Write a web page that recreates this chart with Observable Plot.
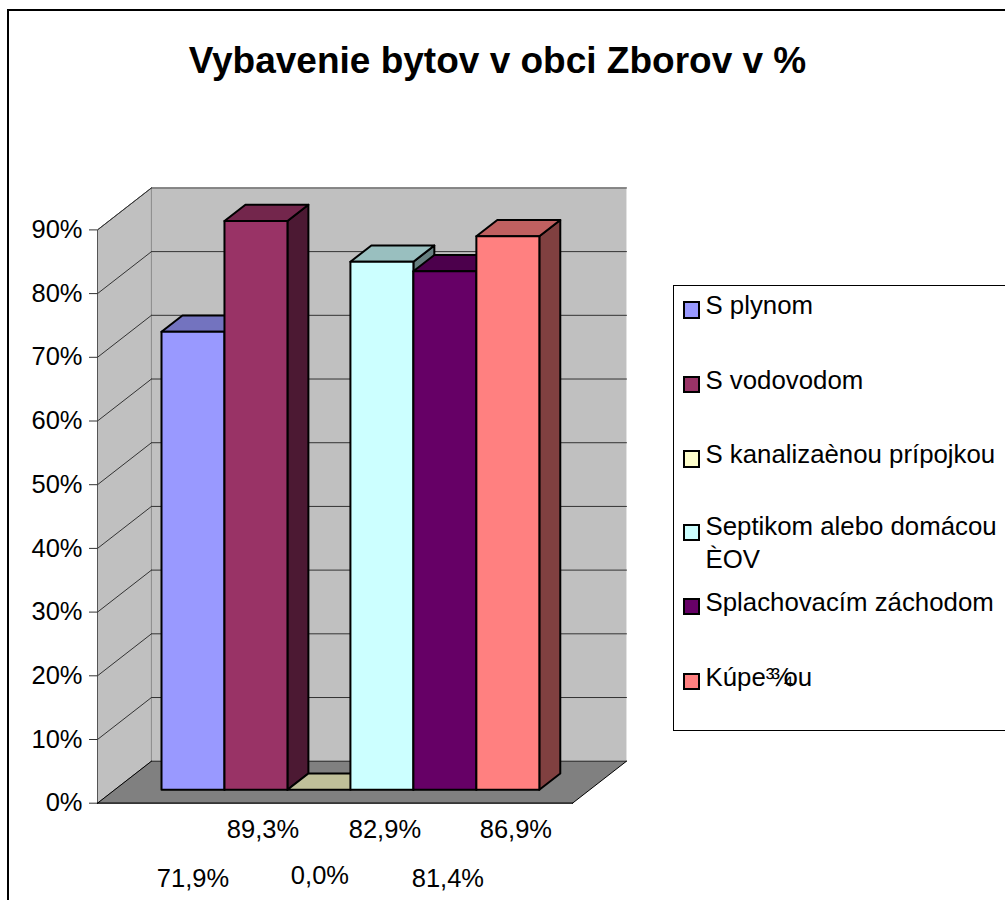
<!DOCTYPE html>
<html lang="sk">
<head>
<meta charset="utf-8">
<title>Vybavenie bytov v obci Zborov v %</title>
<script src="https://cdn.jsdelivr.net/npm/d3@7"></script>
<script src="https://cdn.jsdelivr.net/npm/@observablehq/plot@0.6"></script>
<style>
  html, body { margin: 0; padding: 0; background: #fff; }
  body { width: 1005px; height: 900px; overflow: hidden; position: relative; font-family: "Liberation Sans", Arial, sans-serif; color: #000; }
  #chart { position: absolute; left: 0; top: 0; }
  #chart svg { display: block; }
  .frame { position: absolute; left: 6.5px; top: 8.5px; width: 1100px; height: 1000px; border: 2px solid #000; box-sizing: border-box; }
  h1 { position: absolute; left: 0; top: 38px; width: 995px; margin: 0; text-align: center; font-size: 37px; line-height: 46px; font-weight: bold; }
  .legend { position: absolute; left: 673px; top: 284.5px; width: 400px; height: 446.5px; border: 1.5px solid #000; box-sizing: border-box; background: #fff; }
  .item { position: absolute; left: 31.5px; font-size: 25.8px; line-height: 33px; white-space: nowrap; }
  .swatch { position: absolute; left: 8.5px; width: 17.5px; height: 17.5px; border: 2px solid #000; box-sizing: border-box; }
  .squeezed { margin-left: -0.14em; letter-spacing: -0.34em; }
</style>
</head>
<body>
<div class="frame"></div>
<div id="chart"></div>
<h1 id="title"></h1>
<div class="legend" id="legend"></div>
<script>
const titleText = "Vybavenie bytov v obci Zborov v %";
const categories = ["S plynom", "S vodovodom", "S kanalizaènou prípojkou", "Septikom alebo domácou\nÈOV", "Splachovacím záchodom", "Kúpe³¾ou"];
const values = [71.9, 89.3, 0.0, 82.9, 81.4, 86.9];
const valueLabels = ["71,9%", "89,3%", "0,0%", "82,9%", "81,4%", "86,9%"];
const frontColors = ["#9999FF", "#993366", "#FFFFCC", "#CCFFFF", "#660066", "#FF8080"];
const topColors = ["#7373BF", "#73264C", "#BFBF99", "#99BFBF", "#4C004C", "#BF6060"];
const sideColors = ["#4C4C80", "#4C1933", "#808066", "#668080", "#330033", "#804040"];
const yTicks = [0, 10, 20, 30, 40, 50, 60, 70, 80, 90];

// Oblique projection: depth 0 is the plane of the axis, depth 1 the back wall.
const DEPTH_X = 0.857, DEPTH_Y = 6.59;
const BAR_FRONT = 0.319, BAR_BACK = 0.707;
const XMIN = -0.743, XMAX = 6.8;
const p = (slot, value, depth) => ({ x: slot + depth * DEPTH_X, y: value + depth * DEPTH_Y });
const poly = (points, fill, stroke, strokeWidth) =>
  Plot.line([...points, points[0]], { x: "x", y: "y", fill, stroke, strokeWidth, curve: "linear", strokeLinejoin: "round" });
const seg = (a, b, stroke = "#333", strokeWidth = 1) =>
  Plot.line([a, b], { x: "x", y: "y", stroke, strokeWidth });

const wall = [
  poly([p(XMIN, 0, 0), p(XMIN, 0, 1), p(XMIN, 90, 1), p(XMIN, 90, 0)], "#C0C0C0", "#555", 1),
  poly([p(XMIN, 0, 1), p(XMAX, 0, 1), p(XMAX, 90, 1), p(XMIN, 90, 1)], "#C0C0C0", "none", 0),
  poly([p(XMIN, 0, 0), p(XMIN, 0, 1), p(XMAX, 0, 1), p(XMAX, 0, 0)], "#808080", "none", 0),
  seg(p(XMIN, 0, 0), p(XMAX, 0, 0), "#000", 1.2),
  seg(p(XMIN, 0, 1), p(XMAX, 0, 1), "#222", 1),
  seg(p(XMIN, 0, 0), p(XMIN, 0, 1), "#000", 1),
  seg(p(XMAX, 0, 0), p(XMAX, 0, 1), "#000", 1)
];
const grid = yTicks.filter(t => t > 0).flatMap(t => [
  seg(p(XMIN, t, 0), p(XMIN, t, 1)),
  seg(p(XMIN, t, 1), p(XMAX, t, 1))
]);
const bars = values.flatMap((v, i) => {
  const l = i, r = i + 1;
  const marks = [];
  if (v > 0) marks.push(poly([p(r, 0, BAR_FRONT), p(r, 0, BAR_BACK), p(r, v, BAR_BACK), p(r, v, BAR_FRONT)], sideColors[i], "#000", 2));
  marks.push(poly([p(l, v, BAR_FRONT), p(l, v, BAR_BACK), p(r, v, BAR_BACK), p(r, v, BAR_FRONT)], topColors[i], "#000", 2));
  if (v > 0) marks.push(poly([p(l, 0, BAR_FRONT), p(r, 0, BAR_FRONT), p(r, v, BAR_FRONT), p(l, v, BAR_FRONT)], frontColors[i], "#000", 2));
  return marks;
});

const labelNudge = [0, 7, 1, 3, 3, 8];
const labelDrop = [76, 27, 73, 27, 76, 27];
const labelRows = values.map((v, i) => ({ slot: i + 0.5, label: valueLabels[i], nudge: labelNudge[i], drop: labelDrop[i] }));
const labels = labelRows.map(d =>
  Plot.text([d], { x: r => p(r.slot, 0, BAR_FRONT).x, y: 0, text: "label", dx: d.nudge, dy: d.drop, fontSize: 25.5, fill: "#000", lineAnchor: "middle" })
);

const plot = Plot.plot({
  width: 1005,
  height: 900,
  marginLeft: 97,
  marginRight: 431,
  marginTop: 0,
  marginBottom: 0,
  style: { background: "transparent", fontFamily: '"Liberation Sans", Arial, sans-serif', overflow: "visible" },
  x: { domain: [XMIN, XMAX], range: [97, 572], axis: null },
  y: { domain: [0, 90], range: [802.7, 229.4], axis: null },
  marks: [
    ...wall,
    ...grid,
    Plot.axisY({ ticks: yTicks, tickSize: 8, tickPadding: 7, tickFormat: d => d + "%", fontSize: 25.5, label: null, stroke: "#333", color: "#000" }),
    ...bars,
    ...labels
  ]
});
document.getElementById("chart").append(plot);
document.getElementById("title").textContent = titleText;

const legendRows = [15.5, 90, 164.5, 238, 312, 387];
const legendText = [0, 0, 0, -2, 0, 0];
const legend = document.getElementById("legend");
categories.forEach((c, i) => {
  const s = document.createElement("div");
  s.className = "swatch";
  s.style.top = legendRows[i] + "px";
  s.style.background = frontColors[i];
  legend.append(s);
  c.split("\n").forEach((line, k) => {
    const t = document.createElement("div");
    t.className = "item";
    t.style.top = legendRows[i] - 12 + legendText[i] + k * 33 + "px";
    const cut = line.indexOf("¾");
    if (cut < 0) t.textContent = line;
    else {
      const sq = document.createElement("span");
      sq.className = "squeezed";
      sq.textContent = "¾";
      t.append(line.slice(0, cut), sq, line.slice(cut + 1));
    }
    legend.append(t);
  });
});
</script>
</body>
</html>
